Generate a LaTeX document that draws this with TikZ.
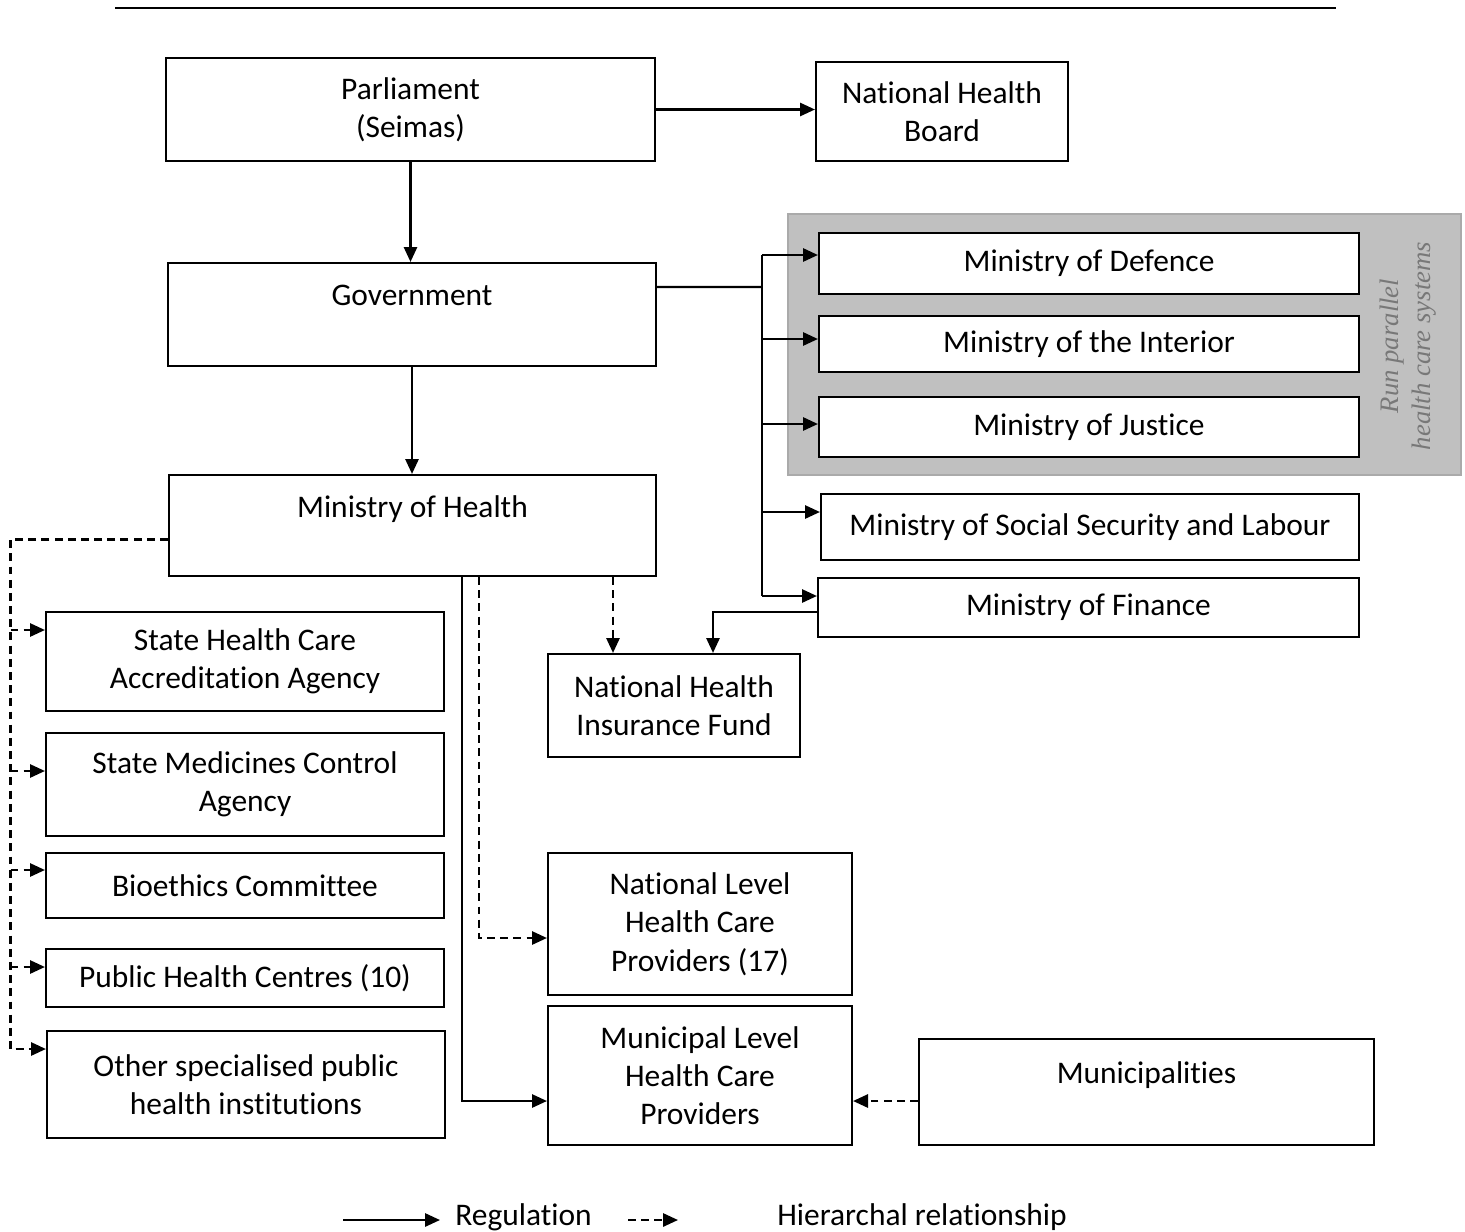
\documentclass[tikz,border=0pt]{standalone}
\usepackage{fontspec}
\setmainfont{Carlito}[Ligatures=NoCommon]
\newfontfamily\notefont{Liberation Serif}
\usetikzlibrary{arrows.meta,positioning,backgrounds}

\begin{document}
\begin{tikzpicture}
		\tikzstyle{Box}		= [draw, line width=1.2pt, fill=white, align=center, inner sep=0pt, font=\fontsize{17.9}{21.8}\selectfont]
		\tikzstyle{Reg}		= [line width=1.3pt, -{Triangle[length=8.5pt, width=7.5pt]}]
		\tikzstyle{Hier}	= [Reg, dash pattern=on 4.5pt off 3pt]
		\tikzstyle{Bus}		= [line width=1.3pt]
		\tikzstyle{Shade}	= [fill={rgb,255:red,192;green,192;blue,192}, draw={rgb,255:red,170;green,170;blue,170}, line width=0.8pt]

		\useasboundingbox (0,0) rectangle (29.3,-24.62);
		\draw [line width=1.3pt] (2.30,-0.16) -- (26.72,-0.16);

		% parallel systems
		\fill [Shade] (15.76,-4.28) rectangle (29.22,-9.50);
		\node (note) at (28.16,-6.92) [rotate=90, align=center, text={rgb,255:red,120;green,120;blue,120}, font=\notefont\itshape\fontsize{15.2}{17.8}\selectfont] {Run parallel\\health care systems};

		\node (parl) at (8.21, -2.19) [Box, minimum width=9.78cm, minimum height=2.06cm] {Parliament\\(Seimas)};
		\node (nhb) at (18.84, -2.23) [Box, minimum width=5.04cm, minimum height=1.98cm] {National Health\\Board};
		\node (gov) at (8.24, -6.29) [Box, minimum width=9.76cm, minimum height=2.06cm] {Government\\\phantom{G}};
		\node (moh) at (8.25, -10.51) [Box, minimum width=9.74cm, minimum height=2.02cm] {Ministry of Health\\\phantom{M}};

		\node (mdef) at (21.78, -5.27) [Box, minimum width=10.8cm, minimum height=1.22cm] {Ministry of Defence};
		\node (mint) at (21.78, -6.88) [Box, minimum width=10.8cm, minimum height=1.12cm] {Ministry of the Interior};
		\node (mjus) at (21.78, -8.54) [Box, minimum width=10.8cm, minimum height=1.2cm] {Ministry of Justice};
		\node (msoc) at (21.80, -10.54) [Box, minimum width=10.76cm, minimum height=1.32cm] {Ministry of Social Security and Labour};
		\node (mfin) at (21.77, -12.15) [Box, minimum width=10.82cm, minimum height=1.18cm] {Ministry of Finance};

		\node (nhif) at (13.48, -14.11) [Box, minimum width=5.04cm, minimum height=2.06cm] {National Health\\Insurance Fund};
		\node (natl) at (14.0, -18.48) [Box, minimum width=6.08cm, minimum height=2.84cm] {National Level\\Health Care\\Providers (17)};
		\node (muni) at (14.0, -21.51) [Box, minimum width=6.08cm, minimum height=2.78cm] {Municipal Level\\Health Care\\Providers};
		\node (mcp) at (22.93, -21.84) [Box, minimum width=9.1cm, minimum height=2.12cm] {Municipalities\\\phantom{M}};

		\node (shca) at (4.90, -13.23) [Box, minimum width=7.96cm, minimum height=1.98cm] {State Health Care\\Accreditation Agency};
		\node (smca) at (4.90, -15.69) [Box, minimum width=7.96cm, minimum height=2.06cm] {State Medicines Control\\Agency};
		\node (bioe) at (4.90, -17.71) [Box, minimum width=7.96cm, minimum height=1.3cm] {Bioethics Committee};
		\node (phc) at (4.90, -19.56) [Box, minimum width=7.96cm, minimum height=1.16cm] {Public Health Centres (10)};
		\node (oth) at (4.92, -21.69) [Box, minimum width=7.96cm, minimum height=2.14cm] {Other specialised public\\health institutions};

		% regulation
		\draw [Reg] (parl.east) -- (parl.east -| nhb.west);
		\draw [Reg] (parl.south) -- (parl.south |- gov.north);
		\draw [Reg] (gov.south) -- (gov.south |- moh.north);

		\coordinate (bj) at (15.24,-5.74);
		\coordinate (b1) at (15.24,-5.10);
		\coordinate (b2) at (15.24,-6.78);
		\coordinate (b3) at (15.24,-8.48);
		\coordinate (b4) at (15.24,-10.24);
		\coordinate (b5) at (15.24,-11.92);
		\draw [Bus] ([yshift=0.55cm]gov.east) -- (bj);
		\draw [Bus] (b1) -- (b5);
		\draw [Reg] (b1) -- (b1 -| mdef.west);
		\draw [Reg] (b2) -- (b2 -| mint.west);
		\draw [Reg] (b3) -- (b3 -| mjus.west);
		\draw [Reg] (b4) -- (b4 -| msoc.west);
		\draw [Reg] (b5) -- (b5 -| mfin.west);

		\draw [Reg] ([yshift=-0.09cm]mfin.west) -| ([xshift=0.78cm]nhif.north);
		\draw [Reg] ([xshift=0.99cm]moh.south) |- ([yshift=-0.51cm]muni.west);

		% hierarchy
		\draw [Hier] ([xshift=4.01cm]moh.south) -- ([xshift=4.01cm]moh.south |- nhif.north);
		\draw [Hier] ([xshift=1.33cm]moh.south) |- ([yshift=-0.28cm]natl.west);
		\draw [Hier] ([yshift=-0.18cm]mcp.west) -- ([yshift=-0.18cm]mcp.west -| muni.east);

		\coordinate (l1) at (0.21,-12.60);
		\coordinate (l2) at (0.21,-15.42);
		\coordinate (l3) at (0.21,-17.40);
		\coordinate (l4) at (0.21,-19.34);
		\coordinate (l5) at (0.21,-20.98);
		\draw [Hier] ([yshift=-0.28cm]moh.west) -| (l5) -- (l5 -| oth.west);
		\draw [Hier] (l1) -- (l1 -| shca.west);
		\draw [Hier] (l2) -- (l2 -| smca.west);
		\draw [Hier] (l3) -- (l3 -| bioe.west);
		\draw [Hier] (l4) -- (l4 -| phc.west);

		% legend
		\coordinate (g1) at (6.86,-24.40);
		\coordinate (g2) at (8.80,-24.40);
		\coordinate (g3) at (12.56,-24.40);
		\coordinate (g4) at (13.56,-24.40);
		\node (lreg) at (9.10,-24.34) [anchor=west, inner sep=0pt, font=\fontsize{17.9}{21.8}\selectfont] {Regulation};
		\node (lhier) at (15.54,-24.34) [anchor=west, inner sep=0pt, font=\fontsize{17.9}{21.8}\selectfont] {Hierarchal relationship};
		\draw [Reg] (g1) -- (g2);
		\draw [Hier] (g3) -- (g4);
\end{tikzpicture}
\end{document}
